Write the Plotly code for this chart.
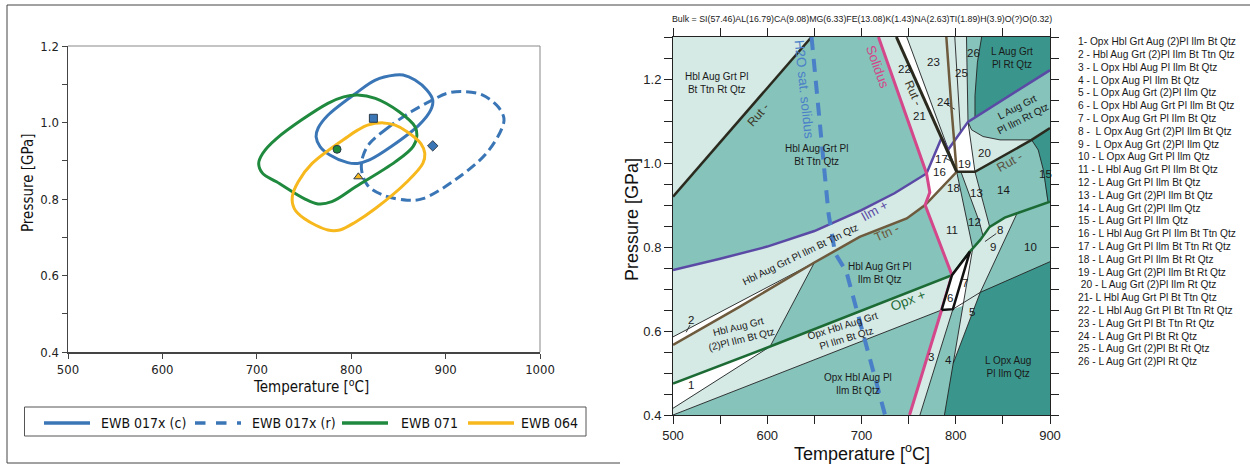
import plotly.graph_objects as go

W, H = 1250, 465


def px(x):
    return x / W


def py(y):
    return 1 - y / H


# ---------------- Left panel: P-T contours (T in degC, P in GPa) ----------------
c017c_T = [804.7, 775.3, 764.9, 762.8, 767.0, 777.4, 796.3, 806.8, 819.4, 842.4, 871.7, 884.3, 886.4, 880.1, 867.6, 855.0, 846.6, 825.6, 804.7]
c017c_P = [1.076, 1.019, 0.985, 0.963, 0.937, 0.915, 0.895, 0.893, 0.902, 0.937, 0.993, 1.033, 1.059, 1.085, 1.111, 1.124, 1.124, 1.111, 1.076]
c017r_T = [863.4, 838.2, 819.4, 812.2, 811.0, 817.3, 834.0, 859.2, 875.9, 909.5, 943.0, 959.7, 961.8, 955.6, 938.8, 917.8, 901.1, 886.4, 863.4]
c017r_P = [1.028, 0.985, 0.945, 0.910, 0.876, 0.836, 0.810, 0.797, 0.801, 0.849, 0.919, 0.985, 1.011, 1.041, 1.072, 1.081, 1.076, 1.059, 1.028]
c071_T = [775.3, 720.9, 706.2, 702.0, 706.2, 720.9, 750.2, 764.9, 779.5, 804.7, 846.6, 865.5, 869.6, 867.6, 850.8, 825.6, 806.8, 792.1, 775.3]
c071_P = [1.050, 0.958, 0.919, 0.893, 0.867, 0.845, 0.801, 0.787, 0.793, 0.832, 0.897, 0.937, 0.967, 0.989, 1.028, 1.063, 1.072, 1.067, 1.050]
c064_T = [796.3, 758.6, 743.9, 737.6, 739.7, 750.2, 775.3, 787.9, 804.7, 825.6, 859.2, 875.9, 878.0, 873.8, 859.2, 846.6, 834.0, 817.3, 806.8, 796.3]
c064_P = [0.963, 0.893, 0.845, 0.806, 0.775, 0.749, 0.719, 0.719, 0.740, 0.775, 0.845, 0.893, 0.919, 0.945, 0.976, 0.993, 0.999, 0.993, 0.980, 0.963]

peak_T = [823.5, 886.4, 785.0, 807.6]
peak_P = [1.011, 0.939, 0.930, 0.858]
peak_symbol = ["square", "diamond", "circle", "triangle-up"]

series_names = ["EWB 017x (c)", "EWB 017x (r)", "EWB 071", "EWB 064"]
series_colors = ["#3a76b6", "#3a76b6", "#1f8a3e", "#f6b81c"]
series_dash = ["solid", "10px,5px", "solid", "solid"]

# ---------------- Right panel: pseudosection ----------------
LIGHT = "#d5e9e5"
MED = "#86c3bb"
DARK = "#3a968c"
WHITE = "#ffffff"

# phase boundaries (T, P)
RUT_L = [(500, 0.92), (647, 1.30)]
H2O_SOL = [(647, 1.30), (665, 0.88), (672, 0.785), (684, 0.741), (725, 0.40)]
SOLIDUS = [(718, 1.30), (769, 0.975), (772.5, 0.93), (767.5, 0.90), (796, 0.733), (785, 0.65), (751, 0.40)]
ILM_IN = [(500, 0.745), (550, 0.772), (600, 0.801), (650, 0.838), (700, 0.888), (735, 0.928), (769, 0.975),
          (785, 1.06), (792, 1.032), (813, 1.098), (900, 1.221)]
TTN_OUT = [(500, 0.567), (571, 0.658), (650, 0.763), (698, 0.824), (748, 0.868), (767.5, 0.90), (801, 0.979),
           (795.6, 1.126), (790, 1.30)]
OPX_IN = [(500, 0.475), (603, 0.563), (796, 0.733), (815, 0.789), (826, 0.817), (836, 0.848), (852, 0.870), (900, 0.908)]
RUT_M = [(737, 1.30), (785, 1.06), (801, 0.979)]
RUT_R = [(801, 0.979), (820.4, 0.979), (880.5, 1.055), (900, 1.083)]

THIN_LINES = [
    [(500, 0.586), (650, 0.763)],
    [(500, 0.416), (603, 0.563), (650, 0.763)],
    [(500, 0.40), (785, 0.65)],
    [(797, 0.652), (826, 0.692), (900, 0.765)],
    [(762, 0.40), (797, 0.652)],
    [(788, 0.40), (797.3, 0.523), (826, 0.692)],
    [(797.3, 0.523), (808, 0.66), (818, 0.797)],
    [(826, 0.692), (865, 0.880)],
    [(801, 0.979), (812, 0.86), (818, 0.797)],
    [(806, 0.976), (825, 0.86), (829, 0.826)],
    [(820.4, 0.979), (830, 0.90), (836, 0.848)],
    [(880.5, 1.055), (887.5, 1.031), (893, 0.983), (896.5, 0.92), (898, 0.906)],
    [(813, 1.098), (816.8, 1.079), (829, 1.063), (847, 1.055), (880.5, 1.055)],
    [(813, 1.098), (820.4, 0.979)],
    [(748, 1.30), (801, 0.979)],
    [(799, 1.30), (803, 1.15), (805, 1.075)],
    [(811.4, 1.30), (813, 1.098)],
    [(827.5, 1.30), (823, 1.24), (820.4, 1.16), (820.4, 1.108)],
]

# fields (polygons)
F_BASE = [(500, 0.40), (900, 0.40), (900, 1.30), (500, 1.30)]
F_A = [(500, 0.92), (647, 1.30), (500, 1.30)]
F_ILMBAND = [(500, 0.745), (550, 0.772), (600, 0.801), (650, 0.838), (700, 0.888), (735, 0.928), (769, 0.975),
             (772.5, 0.93), (767.5, 0.90), (748, 0.868), (698, 0.824), (650, 0.763), (500, 0.586)]
F_2 = [(500, 0.567), (571, 0.658), (650, 0.763), (500, 0.586)]
F_D = [(500, 0.475), (500, 0.567), (571, 0.658), (650, 0.763), (603, 0.563)]
F_1 = [(500, 0.416), (603, 0.563), (500, 0.475)]
F_H = [(500, 0.40), (500, 0.416), (603, 0.563), (796, 0.733), (785, 0.65)]
F_3 = [(751, 0.40), (785, 0.65), (797, 0.652), (762, 0.40)]
F_6 = [(785, 0.65), (797, 0.652), (815, 0.789), (796, 0.733)]
F_7 = [(797, 0.652), (808, 0.66), (818, 0.797), (815, 0.789)]
F_DARKLOW = [(788, 0.40), (900, 0.40), (900, 0.765), (826, 0.692), (797.3, 0.523)]
F_5 = [(797.3, 0.523), (826, 0.692), (865, 0.880), (852, 0.870), (836, 0.848), (826, 0.817), (818, 0.797), (808, 0.66)]
F_11 = [(767.5, 0.90), (796, 0.733), (815, 0.789), (818, 0.797), (812, 0.86), (801, 0.979)]
F_13 = [(806, 0.976), (825, 0.86), (829, 0.826), (836, 0.848), (830, 0.90), (820.4, 0.979)]
F_15 = [(880.5, 1.055), (900, 1.083), (900, 0.908), (898, 0.906), (896.5, 0.92), (893, 0.983), (887.5, 1.031)]
F_16 = [(769, 0.975), (772.5, 0.93), (767.5, 0.90), (801, 0.979), (785, 1.06)]
F_21 = [(718, 1.30), (737, 1.30), (785, 1.06), (769, 0.975)]
F_22 = [(737, 1.30), (748, 1.30), (801, 0.979)]
F_23 = [(748, 1.30), (811.4, 1.30), (813, 1.098), (792, 1.032), (789, 1.042)]
F_19 = [(789, 1.042), (792, 1.032), (813, 1.098), (820.4, 0.979), (801, 0.979)]
F_20 = [(813, 1.098), (816.8, 1.079), (829, 1.063), (847, 1.055), (880.5, 1.055), (820.4, 0.979)]
F_DARKTOP = [(827.5, 1.30), (900, 1.30), (900, 1.221), (820.4, 1.108), (820.4, 1.16), (823, 1.24)]

FIELDS = [
    (F_BASE, MED), (F_A, LIGHT), (F_ILMBAND, LIGHT), (F_2, WHITE), (F_D, LIGHT), (F_1, WHITE),
    (F_H, LIGHT), (F_3, LIGHT), (F_DARKLOW, DARK), (F_5, LIGHT), (F_7, WHITE), (F_11, LIGHT),
    (F_13, LIGHT), (F_15, DARK), (F_16, WHITE), (F_21, LIGHT), (F_22, WHITE), (F_23, LIGHT),
    (F_19, WHITE), (F_20, LIGHT), (F_DARKTOP, DARK),
]

# labels
reg_text = ["Hbl Aug Grt Pl<br>Bt Ttn Rt Qtz", "Hbl Aug Grt Pl<br>Bt Ttn Qtz", "Hbl Aug Grt Pl Ilm Bt Ttn Qtz",
            "Hbl Aug Grt<br>(2)Pl Ilm Bt Qtz", "Hbl Aug Grt Pl<br>Ilm Bt Qtz", "Opx Hbl Aug Grt<br>Pl Ilm Bt Qtz",
            "Opx Hbl Aug Pl<br>Ilm Bt Qtz", "L Opx Aug<br>Pl Ilm Qtz", "L Aug Grt<br>Pl Rt Qtz", "L Aug Grt<br>Pl Ilm Rt Qtz"]
reg_T = [546, 652, 635, 571, 719.6, 682, 696.4, 855.7, 859.2, 868]
reg_P = [1.19, 1.019, 0.781, 0.595, 0.737, 0.598, 0.475, 0.515, 1.249, 1.119]
reg_ang = [0, 0, -26, -14, 0, -17, 0, 0, 0, -27]

lab_text = ["Rut -", "H2O sat. solidus", "Solidus", "Rut -", "Ilm +", "Ttn -", "Opx +", "Rut -"]
lab_T = [590, 639.5, 716.6, 754.8, 714, 726.6, 749.5, 857.5]
lab_P = [1.115, 1.176, 1.229, 1.166, 0.888, 0.833, 0.672, 1.003]
lab_ang = [-49, 84, 70, 66, -29, -24, -21, -29]
lab_color = ["#3b3524", "#4a80c8", "#d4478a", "#3b3524", "#5a4aa5", "#6e5a3c", "#1c6b35", "#5a5040"]
lab_size = [12, 13.5, 13.5, 12, 13, 12.5, 13.5, 12.5]

num_T = [519.5, 519.5, 774, 792, 816.8, 794, 809.8, 847, 839.8, 879, 795.6, 820.4, 822, 850.4, 894.7, 782.5,
         785, 797.3, 809.7, 831, 762, 746, 776, 786.7, 806.2, 819.3]
num_P = [0.471, 0.626, 0.539, 0.531, 0.646, 0.678, 0.714, 0.840, 0.80, 0.80, 0.840, 0.860, 0.928, 0.936, 0.975,
         0.979, 1.009, 0.94, 0.997, 1.023, 1.112, 1.225, 1.241, 1.146, 1.215, 1.261]

LEADERS = [
    [(518, 0.614), (514, 0.597)],
    [(843, 0.832), (831, 0.813)],
    [(789, 1.011), (795, 1.005)],
    [(750, 1.222), (755, 1.212)],
    [(790, 1.140), (799, 1.128)],
]

list_items = ["1- Opx Hbl Grt Aug (2)Pl Ilm Bt Qtz", "2 - Hbl Aug Grt (2)Pl Ilm Bt Ttn Qtz",
              "3 - L Opx Hbl Aug Pl Ilm Bt Qtz", "4 - L Opx Aug Pl Ilm Bt Qtz",
              "5 - L Opx Aug Grt (2)Pl Ilm Qtz", "6 - L Opx Hbl Aug Grt Pl Ilm Bt Qtz",
              "7 - L Opx Aug Grt Pl Ilm Bt Qtz", "8 -\u00a0 L Opx Aug Grt (2)Pl Ilm Bt Qtz",
              "9 -\u00a0 L Opx Aug Grt (2)Pl Ilm Qtz", "10 - L Opx Aug Grt Pl Ilm Qtz",
              "11 - L Hbl Aug Grt Pl Ilm Bt Qtz", "12 - L Aug Grt Pl Ilm Bt Qtz",
              "13 - L Aug Grt (2)Pl Ilm Bt Qtz", "14 - L Aug Grt (2)Pl Ilm Qtz",
              "15 - L Aug Grt Pl Ilm Qtz", "16 - L Hbl Aug Grt Pl Ilm Bt Ttn Qtz",
              "17 - L Aug Grt Pl Ilm Bt Ttn Rt Qtz", "18 - L Aug Grt Pl Ilm Bt Rt Qtz",
              "19 - L Aug Grt (2)Pl Ilm Bt Rt Qtz", "\u00a020 - L Aug Grt (2)Pl Ilm Rt Qtz",
              "21- L Hbl Aug Grt Pl Bt Ttn Qtz", "22 - L Hbl Aug Grt Pl Bt Ttn Rt Qtz",
              "23 - L Aug Grt Pl Bt Ttn Rt Qtz", "24 - L Aug Grt Pl Bt Rt Qtz",
              "25 - L Aug Grt (2)Pl Bt Rt Qtz", "26 - L Aug Grt (2)Pl Rt Qtz"]

bulk_text = "Bulk = SI(57.46)AL(16.79)CA(9.08)MG(6.33)FE(13.08)K(1.43)NA(2.63)TI(1.89)H(3.9)O(?)O(0.32)"

NARROW = "Liberation Sans Narrow, DejaVu Sans Condensed, Liberation Sans, Arial"
ARIAL = "Liberation Sans, Arial"

fig = go.Figure()

# ---- left panel traces ----
contours = [(c017c_T, c017c_P), (c017r_T, c017r_P), (c071_T, c071_P), (c064_T, c064_P)]
for (t, p), name, col, dash in zip(contours, series_names, series_colors, series_dash):
    fig.add_trace(go.Scatter(x=t, y=p, mode="lines", name=name,
                             line=dict(color=col, width=3, dash=dash, shape="spline", smoothing=1.0),
                             xaxis="x", yaxis="y", hoverinfo="skip"))
for t, p, sym, col in zip(peak_T, peak_P, peak_symbol, series_colors):
    fig.add_trace(go.Scatter(x=[t], y=[p], mode="markers",
                             marker=dict(symbol=sym, size=8, color=col, line=dict(color="#2a3a4a", width=1)),
                             xaxis="x", yaxis="y", hoverinfo="skip"))


# ---- right panel traces ----
def add_poly(pts, color, lc=None, lw=0):
    xs = [p[0] for p in pts] + [pts[0][0]]
    ys = [p[1] for p in pts] + [pts[0][1]]
    fig.add_trace(go.Scatter(x=xs, y=ys, mode="lines", fill="toself", fillcolor=color,
                             line=dict(color=lc or color, width=lw), xaxis="x2", yaxis="y2", hoverinfo="skip"))


def add_line(pts, color, width, dash="solid"):
    fig.add_trace(go.Scatter(x=[p[0] for p in pts], y=[p[1] for p in pts], mode="lines",
                             line=dict(color=color, width=width, dash=dash),
                             xaxis="x2", yaxis="y2", hoverinfo="skip"))


for pts, col in FIELDS:
    add_poly(pts, col)
for ln in THIN_LINES:
    add_line(ln, "#222222", 0.9)
for ln in LEADERS:
    add_line(ln, "#222222", 0.9)
add_line(RUT_L, "#2b2a1e", 2.5)
add_line(ILM_IN, "#5a4aa5", 2.5)
add_line(TTN_OUT, "#6e5a3c", 2.5)
add_line(OPX_IN, "#1c6b35", 2.5)
add_line(RUT_M, "#2b2a1e", 3)
add_line(RUT_R, "#2b2a1e", 2.5)
add_line(SOLIDUS, "#d4478a", 3)
add_poly(F_6, WHITE, lc="#111111", lw=2.5)
add_line(H2O_SOL, "#4a80c8", 4, dash="13px,9px")

ann = []


def text_paper(x, y, txt, size, family, color="#111", xanchor="center", angle=0):
    ann.append(dict(x=px(x), y=py(y), xref="paper", yref="paper", text=txt, showarrow=False,
                    xanchor=xanchor, yanchor="middle", textangle=angle,
                    font=dict(family=family, size=size, color=color)))


for txt, t, p, a in zip(reg_text, reg_T, reg_P, reg_ang):
    ann.append(dict(x=t, y=p, xref="x2", yref="y2", text=txt, showarrow=False, textangle=a,
                    xanchor="center", yanchor="middle", font=dict(family=ARIAL, size=10, color="#1a1a1a")))
for txt, t, p, a, c, s in zip(lab_text, lab_T, lab_P, lab_ang, lab_color, lab_size):
    ann.append(dict(x=t, y=p, xref="x2", yref="y2", text=txt, showarrow=False, textangle=a,
                    xanchor="center", yanchor="middle", font=dict(family=ARIAL, size=s, color=c)))
for i, (t, p) in enumerate(zip(num_T, num_P)):
    ann.append(dict(x=t, y=p, xref="x2", yref="y2", text=str(i + 1), showarrow=False,
                    xanchor="center", yanchor="middle", font=dict(family=ARIAL, size=11.5, color="#1a1a1a")))
for i, txt in enumerate(list_items):
    text_paper(1076, 41.7 + 12.8 * i, txt, 10.2, ARIAL, "#1a1a1a", xanchor="left")
text_paper(862, 19, bulk_text, 8.8, ARIAL, "#1a1a1a")
text_paper(862, 452, "Temperature [<sup>o</sup>C]", 18, ARIAL)
text_paper(632, 220, "Pressure [GPa]", 18, ARIAL, angle=-90)
text_paper(311, 386, "Temperature [<sup>o</sup>C]", 15, NARROW)
text_paper(28, 183, "Pressure [GPa]", 15, NARROW, angle=-90)

# left legend
leg_x0 = [44, 195, 342, 468]
leg_tx = [99, 250, 399, 519]
shapes = []
for x0, tx, name, col, dash in zip(leg_x0, leg_tx, series_names, series_colors, series_dash):
    shapes.append(dict(type="line", xref="paper", yref="paper", x0=px(x0), x1=px(x0 + 46), y0=py(423), y1=py(423),
                       line=dict(color=col, width=3.5, dash=("dash" if dash != "solid" else "solid"))))
    text_paper(tx, 423, name, 14, NARROW, xanchor="left")
shapes.append(dict(type="rect", xref="paper", yref="paper", x0=px(24.5), x1=px(586), y0=py(407), y1=py(436),
                   line=dict(color="#555", width=1)))
# left plot top/right frame
shapes.append(dict(type="line", xref="x domain", yref="y domain", x0=0, x1=1, y0=1, y1=1,
                   line=dict(color="#888", width=1)))
shapes.append(dict(type="line", xref="x domain", yref="y domain", x0=1, x1=1, y0=0, y1=1,
                   line=dict(color="#888", width=1)))
# outer frame
shapes.append(dict(type="line", xref="paper", yref="paper", x0=px(7), x1=1, y0=py(5), y1=py(5),
                   line=dict(color="#444", width=1)))
shapes.append(dict(type="line", xref="paper", yref="paper", x0=px(7), x1=px(7), y0=py(5), y1=py(463),
                   line=dict(color="#444", width=1)))
shapes.append(dict(type="line", xref="paper", yref="paper", x0=px(7), x1=px(620), y0=py(463), y1=py(463),
                   line=dict(color="#444", width=1)))

fig.update_layout(
    width=W, height=H, margin=dict(l=0, r=0, t=0, b=0, pad=0), autosize=False,
    paper_bgcolor="white", plot_bgcolor="rgba(0,0,0,0)", showlegend=False,
    annotations=ann, shapes=shapes,
    xaxis=dict(domain=[px(68), px(540)], range=[500, 1000], anchor="y", tick0=500, dtick=100, automargin=False,
               ticks="outside", ticklen=5, tickcolor="#444", showline=True, linecolor="#444", linewidth=1.5,
               showgrid=False, zeroline=False, tickfont=dict(family=NARROW, size=13, color="#222")),
    yaxis=dict(domain=[py(352), py(46)], range=[0.4, 1.2], anchor="x", tick0=0.4, dtick=0.2, tickformat=".1f",
               automargin=False,
               ticks="outside", ticklen=5, tickcolor="#444", showline=True, linecolor="#444", linewidth=1.5,
               minor=dict(dtick=0.1, tick0=0.4, ticks="outside", ticklen=5, tickcolor="#444"),
               showgrid=False, zeroline=False, tickfont=dict(family=NARROW, size=13, color="#222")),
    xaxis2=dict(domain=[px(673), px(1050)], range=[500, 900], anchor="y2", tick0=500, dtick=100, automargin=False,
                ticks="outside", ticklen=8, tickcolor="#222", showline=True, linecolor="#222", linewidth=1,
                mirror="ticks", minor=dict(dtick=50, tick0=500, ticks="outside", ticklen=8, tickcolor="#222"),
                showgrid=False, zeroline=False, tickfont=dict(family=ARIAL, size=13, color="#222")),
    yaxis2=dict(domain=[py(415), py(37)], range=[0.4, 1.3], anchor="x2", tick0=0.4, dtick=0.2, tickformat=".1f",
                automargin=False,
                ticks="outside", ticklen=8, tickcolor="#222", showline=True, linecolor="#222", linewidth=1,
                mirror="ticks", minor=dict(dtick=0.05, tick0=0.4, ticks="outside", ticklen=8, tickcolor="#222"),
                showgrid=False, zeroline=False, tickfont=dict(family=ARIAL, size=13, color="#222")),
)

fig.write_html("out.html", config={"displayModeBar": False, "staticPlot": True},
               post_script="document.body.style.margin='0px';document.body.style.overflow='hidden';")
